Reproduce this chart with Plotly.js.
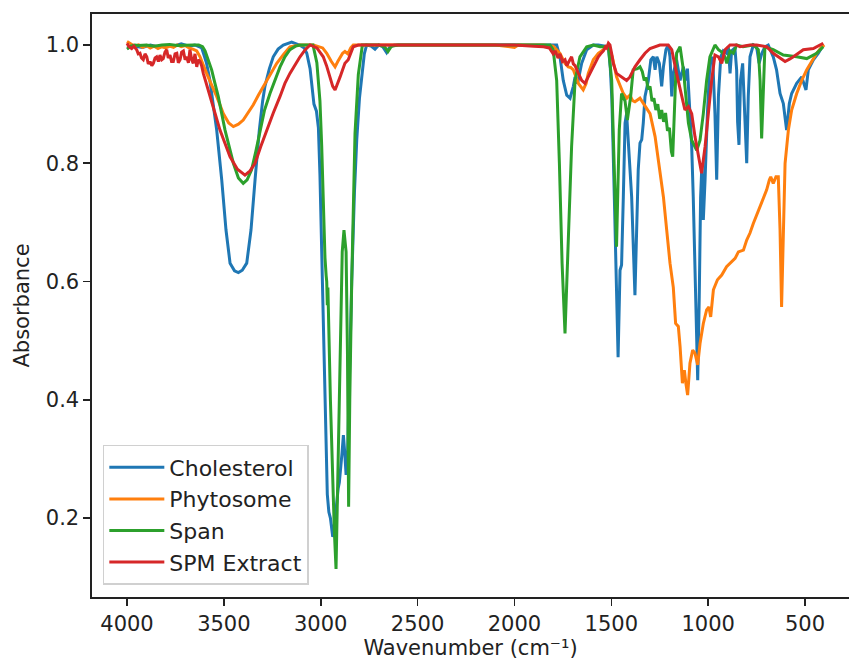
<!DOCTYPE html>
<html>
<head>
<meta charset="utf-8">
<script src="https://cdn.plot.ly/plotly-3.0.1.min.js"></script>
<style>html,body{margin:0;padding:0;background:#fff;}#chart{width:849px;height:660px;}</style>
</head>
<body>
<div id="chart"></div>
<script>
// ---- Data (wavenumber in cm^-1, absorbance) ----
const seriesNames = ["Cholesterol", "Phytosome", "Span", "SPM Extract"];

const cholWn = [4000,3960,3920,3880,3840,3800,3760,3720,3680,3650,3614,3590,3572,3555,3537,3511,3489,3468,3445,3425,3405,3382,3360,3339,3317,3300,3288,3265,3245,3220,3193,3150,3110,3085,3072,3055,3045,3035,3022,3012,3004,2995,2985,2975,2966,2958,2950,2938,2925,2910,2904,2890,2883,2876,2869,2862,2852,2840,2826,2814,2800,2788,2775,2763,2740,2720,2700,2680,2660,2645,2620,2500,2400,2300,2200,2100,2000,1900,1800,1782,1765,1748,1730,1713,1696,1687,1674,1653,1627,1593,1567,1515,1505,1497,1484,1473,1465,1455,1447,1438,1429,1421,1408,1395,1378,1369,1361,1352,1343,1335,1326,1309,1296,1283,1274,1265,1252,1240,1231,1218,1206,1197,1188,1180,1163,1145,1128,1116,1107,1094,1085,1077,1068,1059,1054,1046,1039,1032,1025,1016,1004,991,977,965,956,947,935,922,905,896,887,879,862,853,848,841,833,822,815,801,793,784,767,750,737,724,707,690,664,647,629,612,595,581,569,543,517,495,483,457,431,406];
const cholAbs = [0.995,0.998,0.996,1.0,0.997,0.999,0.998,1.002,0.998,1.0,0.995,0.97,0.94,0.90,0.856,0.772,0.687,0.631,0.618,0.615,0.619,0.631,0.687,0.772,0.856,0.905,0.93,0.96,0.98,0.993,1.0,1.005,1.0,0.995,0.986,0.96,0.925,0.90,0.888,0.86,0.78,0.65,0.5,0.38,0.24,0.21,0.2,0.168,0.2,0.25,0.26,0.31,0.34,0.31,0.273,0.3,0.45,0.60,0.75,0.84,0.91,0.95,0.985,1.0,0.998,0.993,1.0,0.997,0.987,0.996,1.0,1.0,1.0,1.0,1.0,0.999,1.0,1.0,1.0,1.0,0.98,0.94,0.915,0.91,0.93,0.946,0.935,0.969,0.992,1.0,1.0,0.997,0.96,0.907,0.738,0.569,0.472,0.619,0.628,0.743,0.868,0.884,0.82,0.743,0.577,0.687,0.789,0.834,0.84,0.868,0.913,0.94,0.975,0.98,0.958,0.98,0.969,0.93,0.963,0.992,1.0,0.98,0.913,0.952,0.975,0.94,0.963,0.94,0.96,0.884,0.828,0.743,0.631,0.518,0.433,0.574,0.743,0.8,0.704,0.772,0.884,0.969,0.98,0.884,0.772,0.913,0.98,0.99,0.986,0.997,0.952,0.99,0.995,0.958,0.87,0.831,0.94,0.969,0.913,0.80,0.913,0.98,1.0,0.997,0.969,0.985,0.997,1.0,0.98,0.958,0.918,0.901,0.856,0.901,0.918,0.935,0.946,0.924,0.958,0.975,0.986,1.0];

const phytoWn = [4000,3980,3960,3940,3920,3900,3880,3860,3840,3820,3800,3780,3760,3740,3720,3700,3680,3660,3640,3623,3606,3589,3560,3537,3503,3475,3451,3425,3400,3375,3348,3322,3296,3260,3227,3190,3159,3107,3060,3038,2990,2969,2945,2926,2912,2900,2887,2875,2860,2845,2832,2700,2500,2300,2100,2000,1980,1850,1800,1765,1739,1722,1710,1696,1670,1645,1630,1619,1593,1567,1541,1515,1495,1473,1455,1438,1420,1404,1390,1378,1352,1326,1300,1274,1249,1231,1214,1197,1180,1168,1154,1145,1133,1123,1115,1106,1094,1080,1068,1054,1042,1025,1008,996,987,973,952,930,905,887,861,844,818,801,784,767,750,732,715,698,684,677,664,650,638,629,621,612,603,586,569,543,517,491,465,440,414,400];
const phytoAbs = [1.006,1.002,0.998,1.0,0.996,0.999,0.995,0.998,0.994,0.997,0.995,0.998,0.996,1.0,0.997,0.999,0.995,0.993,0.99,0.98,0.965,0.952,0.93,0.913,0.884,0.868,0.862,0.866,0.873,0.886,0.899,0.915,0.93,0.952,0.969,0.985,0.997,1.0,1.0,1.0,0.995,0.986,0.972,0.963,0.972,0.98,0.986,0.989,0.985,0.995,1.0,1.0,1.0,1.0,1.0,0.996,1.0,1.0,0.998,0.986,0.969,0.963,0.962,0.958,0.935,0.924,0.935,0.952,0.975,0.986,0.992,1.0,0.98,0.946,0.93,0.918,0.91,0.915,0.906,0.904,0.91,0.898,0.884,0.845,0.789,0.743,0.687,0.631,0.59,0.529,0.524,0.49,0.428,0.45,0.428,0.408,0.462,0.484,0.479,0.459,0.495,0.529,0.552,0.557,0.54,0.586,0.603,0.611,0.625,0.631,0.639,0.65,0.653,0.67,0.682,0.698,0.712,0.727,0.738,0.755,0.772,0.777,0.766,0.777,0.777,0.687,0.557,0.687,0.8,0.856,0.89,0.918,0.94,0.958,0.972,0.986,0.997,1.0];

const spanWn = [4000,3980,3960,3940,3900,3860,3820,3780,3740,3700,3660,3630,3610,3597,3580,3563,3546,3529,3494,3451,3425,3400,3380,3357,3335,3313,3290,3262,3235,3210,3185,3159,3130,3107,3080,3040,3020,3004,2995,2987,2978,2972,2969,2966,2963,2950,2943,2930,2921,2910,2900,2889,2880,2869,2862,2856,2850,2840,2823,2806,2785,2700,2670,2653,2635,2600,2400,2200,2000,1850,1816,1800,1782,1768,1754,1739,1722,1705,1687,1662,1627,1593,1558,1515,1498,1486,1473,1459,1447,1429,1417,1400,1387,1365,1352,1340,1330,1320,1310,1300,1290,1280,1270,1260,1250,1240,1230,1220,1210,1200,1190,1183,1171,1163,1145,1128,1115,1102,1085,1059,1042,1025,1008,991,965,947,930,913,904,887,870,853,820,767,741,732,724,715,707,664,612,543,491,440,406];
const spanAbs = [0.993,0.998,1.0,0.999,1.0,0.998,1.0,1.001,0.999,1.0,1.0,1.0,0.997,0.99,0.975,0.958,0.935,0.913,0.856,0.80,0.775,0.766,0.772,0.789,0.82,0.856,0.89,0.918,0.942,0.963,0.98,0.992,0.998,1.0,1.0,1.0,0.97,0.905,0.83,0.73,0.64,0.61,0.60,0.56,0.59,0.4,0.31,0.18,0.114,0.3,0.42,0.65,0.687,0.65,0.48,0.219,0.4,0.60,0.85,0.95,1.0,1.0,0.997,0.989,0.998,1.0,1.0,1.0,1.0,1.0,1.0,0.992,0.94,0.8,0.63,0.512,0.659,0.828,0.94,0.98,0.997,1.0,0.997,0.997,0.94,0.8,0.659,0.856,0.918,0.905,0.873,0.913,0.958,0.96,0.963,0.955,0.94,0.945,0.925,0.93,0.905,0.91,0.89,0.9,0.875,0.89,0.87,0.885,0.855,0.86,0.82,0.811,0.913,0.986,0.997,0.958,0.913,0.868,0.839,0.822,0.839,0.884,0.94,0.98,1.0,0.992,0.988,0.98,0.969,0.99,0.986,1.0,0.997,1.0,0.992,0.94,0.842,0.94,0.997,0.992,0.983,0.98,0.977,0.986,0.997];

const spmWn = [4000,3990,3976,3965,3950,3942,3933,3925,3916,3907,3898,3890,3881,3872,3864,3855,3847,3838,3830,3821,3813,3804,3795,3787,3778,3770,3761,3752,3743,3735,3726,3718,3709,3700,3692,3683,3675,3666,3658,3649,3640,3632,3623,3615,3606,3590,3572,3546,3520,3494,3468,3430,3391,3365,3339,3310,3279,3245,3210,3185,3159,3130,3107,3080,3055,3020,2987,2970,2952,2938,2926,2915,2900,2887,2875,2858,2845,2832,2806,2600,2400,2200,2000,1900,1850,1820,1800,1790,1775,1765,1752,1739,1730,1722,1713,1705,1696,1687,1670,1653,1636,1619,1605,1593,1580,1567,1555,1541,1530,1524,1515,1507,1498,1490,1473,1447,1421,1404,1378,1352,1326,1300,1270,1249,1206,1188,1163,1137,1120,1102,1085,1068,1051,1034,1016,999,982,965,947,930,913,887,853,836,784,750,698,664,630,603,580,560,509,457,406];
const spmAbs = [1.003,0.997,0.994,0.998,0.992,0.985,0.986,0.978,0.975,0.985,0.98,0.968,0.972,0.965,0.969,0.978,0.98,0.972,0.983,0.975,0.977,0.988,0.992,0.978,0.983,0.972,0.972,0.985,0.986,0.97,0.975,0.988,0.99,0.975,0.98,0.97,0.992,0.975,0.969,0.985,0.963,0.975,0.972,0.965,0.952,0.935,0.913,0.885,0.856,0.833,0.811,0.79,0.78,0.787,0.80,0.828,0.856,0.885,0.913,0.935,0.952,0.968,0.98,0.992,1.0,0.995,0.98,0.965,0.946,0.93,0.924,0.935,0.946,0.958,0.969,0.975,0.988,0.997,1.0,1.0,1.0,0.999,1.0,0.998,0.997,0.995,0.985,0.99,0.978,0.985,0.972,0.975,0.965,0.97,0.975,0.98,0.968,0.965,0.952,0.94,0.935,0.946,0.955,0.963,0.972,0.98,0.985,0.99,0.997,0.995,1.003,1.0,0.985,0.969,0.952,0.946,0.94,0.946,0.963,0.975,0.986,0.994,0.997,1.0,1.0,0.992,0.952,0.913,0.89,0.896,0.884,0.845,0.811,0.783,0.828,0.884,0.94,0.983,0.98,0.969,0.992,1.0,1.0,0.997,1.0,1.0,0.997,0.986,0.978,0.972,0.976,0.98,0.992,0.994,1.003];

const xTicks = [4000,3500,3000,2500,2000,1500,1000,500];
const yTicks = [0.2,0.4,0.6,0.8,1.0];
const colors = ["#1f77b4", "#ff7f0e", "#2ca02c", "#d62728"];

const xs = [cholWn, phytoWn, spanWn, spmWn];
const ys = [cholAbs, phytoAbs, spanAbs, spmAbs];

const font = "DejaVu Sans, Verdana, sans-serif";
const traces = seriesNames.map((n, i) => ({
  type: "scatter", mode: "lines", name: n,
  x: xs[i], y: ys[i],
  line: {color: colors[i], width: 3}
}));

const layout = {
  width: 849, height: 660,
  margin: {l: 92, r: 0, t: 14, b: 63, pad: 0},
  paper_bgcolor: "#fff", plot_bgcolor: "#fff",
  font: {family: font, size: 21, color: "#222"},
  showlegend: true,
  xaxis: {
    range: [4180.7, 273], tickvals: xTicks, ticktext: xTicks.map(String),
    ticks: "outside", ticklen: 7, tickwidth: 1.6, tickcolor: "#222",
    showline: true, linecolor: "#222", linewidth: 1.6, mirror: true,
    showgrid: false, zeroline: false, automargin: false,
    tickfont: {family: font, size: 21, color: "#222"},
    title: {text: "Wavenumber (cm⁻¹)", font: {family: font, size: 21, color: "#222"}, standoff: 9}
  },
  yaxis: {
    range: [0.0664, 1.0524], tickvals: yTicks, tickformat: ".1f",
    ticks: "outside", ticklen: 7, tickwidth: 1.6, tickcolor: "#222",
    showline: true, linecolor: "#222", linewidth: 1.6, mirror: false,
    showgrid: false, zeroline: false, automargin: false,
    tickfont: {family: font, size: 21, color: "#222"},
    title: {text: "Absorbance", font: {family: font, size: 21, color: "#222"}, standoff: 10}
  },
  legend: {
    x: 0.0143, y: 0.0206, xanchor: "left", yanchor: "bottom",
    bgcolor: "rgba(255,255,255,0.85)", bordercolor: "#d0d0d0", borderwidth: 1.5,
    font: {family: font, size: 22, color: "#222"},
    itemwidth: 55,
    tracegroupgap: 0
  }
};

Plotly.newPlot("chart", traces, layout, {staticPlot: true, displayModeBar: false});
</script>
</body>
</html>
